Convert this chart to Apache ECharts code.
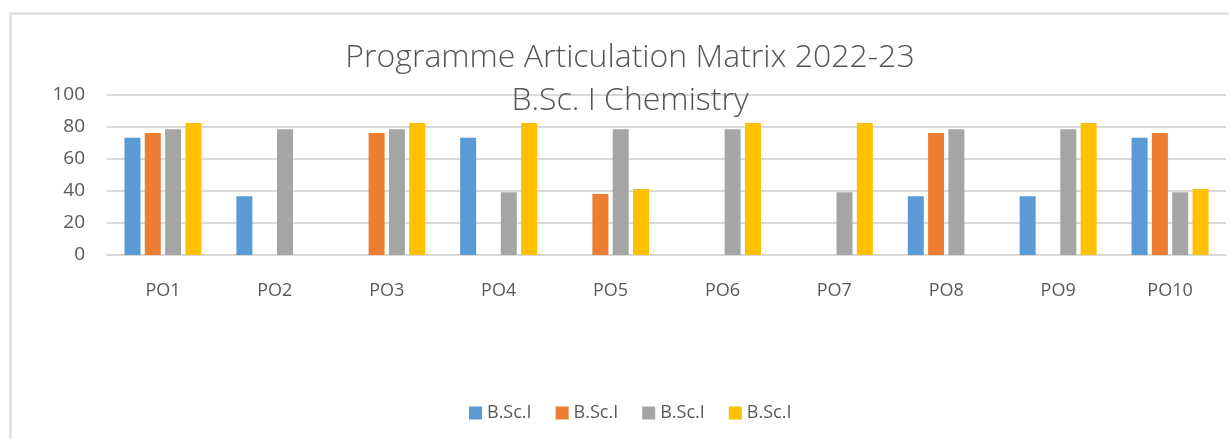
<!DOCTYPE html>
<html>
<head>
<meta charset="utf-8">
<script src="https://cdn.jsdelivr.net/npm/echarts@6/dist/echarts.min.js"></script>
<style>
  html, body { margin: 0; padding: 0; background: #fff; }
  #chart { width: 1229px; height: 439px; }
</style>
</head>
<body>
<div id="chart"></div>
<script>
// Programme outcomes and attainment per course
const categories = ['PO1', 'PO2', 'PO3', 'PO4', 'PO5', 'PO6', 'PO7', 'PO8', 'PO9', 'PO10'];
const seriesLabel = 'B.Sc.I';
const valuesA = [73.33, 36.67, 0, 73.33, 0, 0, 0, 36.67, 36.67, 73.33];
const valuesB = [76.19, 0, 76.19, 0, 38.1, 0, 0, 76.19, 0, 76.19];
const valuesC = [78.57, 78.57, 78.57, 39.29, 78.57, 78.57, 39.29, 78.57, 78.57, 39.29];
const valuesD = [82.5, 0, 82.5, 82.5, 41.25, 82.5, 82.5, 0, 82.5, 41.25];
const yTicks = [0, 20, 40, 60, 80, 100];

const colors = ['#5B9BD5', '#ED7D31', '#A5A5A5', '#FFC000'];
const font = '"Open Sans", "Liberation Sans", sans-serif';
const allValues = [valuesA, valuesB, valuesC, valuesD];
// every series shares the same label; zero-width spaces keep the legend entries apart
const seriesIds = allValues.map((_, i) => seriesLabel + '\u200B'.repeat(i));

const chart = echarts.init(document.getElementById('chart'), null, { renderer: 'canvas' });
chart.setOption({
  animation: false,
  color: colors,
  graphic: [{
    type: 'rect',
    shape: { x: 10.5, y: 13.5, width: 1240, height: 440 },
    style: { fill: 'none', stroke: '#d9d9d9', lineWidth: 2 },
    silent: true
  }],
  title: {
    text: 'Programme Articulation Matrix 2022-23\nB.Sc. I Chemistry',
    left: 625,
    textAlign: 'center',
    top: 31,
    textStyle: {
      fontFamily: font,
      fontWeight: 300,
      fontSize: 32,
      lineHeight: 43,
      color: '#555555'
    }
  },
  legend: {
    data: seriesIds,
    top: 399,
    left: 464,
    itemWidth: 13,
    itemHeight: 13,
    itemGap: 24,
    icon: 'rect',
    textStyle: { fontFamily: font, fontSize: 18, color: '#595959' }
  },
  grid: { left: 107, right: 3, top: 95, bottom: 439 - 255 },
  xAxis: {
    type: 'category',
    data: categories,
    axisLine: { lineStyle: { color: '#d9d9d9', width: 2 } },
    axisTick: { show: false },
    axisLabel: { fontFamily: font, fontSize: 18, color: '#595959', margin: 27 }
  },
  yAxis: {
    type: 'value',
    min: yTicks[0],
    max: yTicks[yTicks.length - 1],
    interval: 20,
    axisLine: { show: false },
    axisTick: { show: false },
    splitLine: { lineStyle: { color: '#d9d9d9', width: 2 } },
    axisLabel: { fontFamily: font, fontSize: 19, color: '#595959', margin: 22 }
  },
  series: allValues.map((vals, i) => ({
    name: seriesIds[i],
    type: 'bar',
    data: vals,
    barWidth: 16,
    barGap: '27%'
  }))
});
</script>
</body>
</html>
